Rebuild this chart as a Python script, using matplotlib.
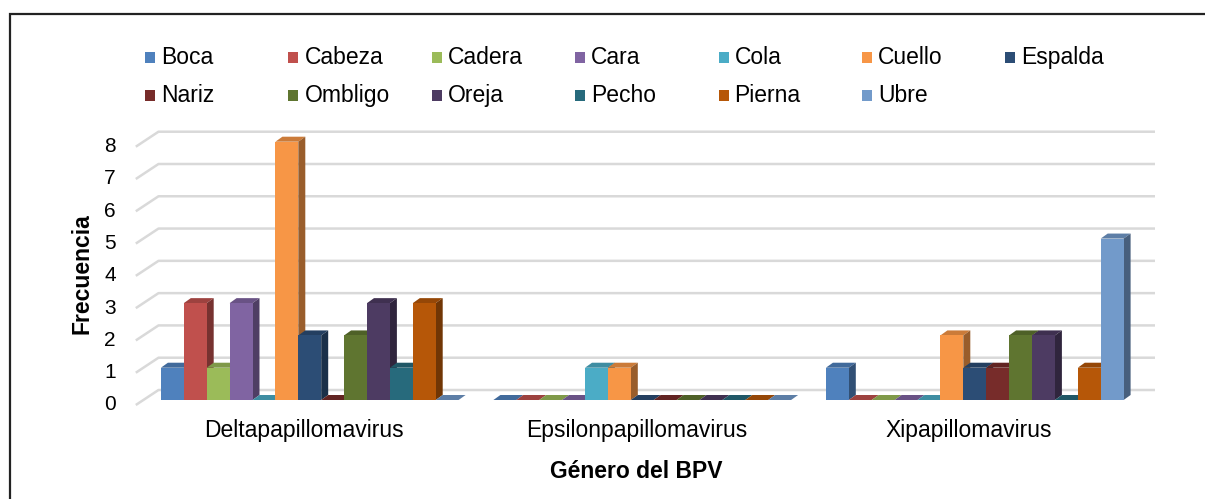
import numpy as np
import matplotlib
matplotlib.use("Agg")
import matplotlib.pyplot as plt
from matplotlib.patches import Rectangle, Polygon
from matplotlib.colors import to_rgb

plt.rcParams['font.family'] = ['Liberation Sans', 'DejaVu Sans']

generos = ["Deltapapillomavirus", "Epsilonpapillomavirus", "Xipapillomavirus"]
regiones = ["Boca", "Cabeza", "Cadera", "Cara", "Cola", "Cuello", "Espalda",
            "Nariz", "Ombligo", "Oreja", "Pecho", "Pierna", "Ubre"]
colores = ["#4F81BD", "#C0504D", "#9BBB59", "#8064A2", "#4BACC6", "#F79646", "#2C4D75",
           "#772C2A", "#5F7530", "#4D3B62", "#276A7C", "#B65708", "#729ACA"]

# frecuencia por region, en orden de generos
boca = [1, 0, 1]
cabeza = [3, 0, 0]
cadera = [1, 0, 0]
cara = [3, 0, 0]
cola = [0, 1, 0]
cuello = [8, 1, 2]
espalda = [2, 0, 1]
nariz = [0, 0, 1]
ombligo = [2, 0, 2]
oreja = [3, 0, 2]
pecho = [1, 0, 0]
pierna = [3, 0, 1]
ubre = [0, 0, 5]
valores = [boca, cabeza, cadera, cara, cola, cuello, espalda,
           nariz, ombligo, oreja, pecho, pierna, ubre]
yticks = list(range(0, 9))


def shade(c, f):
    r, g, b = to_rgb(c)
    return (r * f, g * f, b * f)


W, H = 1205, 499
fig = plt.figure(figsize=(W / 100, H / 100), dpi=100)

# marco exterior
fig.patches.append(Rectangle((10 / W, -0.1), 1.2, (H - 14) / H + 0.1, transform=fig.transFigure,
                             fill=False, edgecolor="#222222", linewidth=1.6))

# ejes: x en unidades de categoria, y en frecuencia (plano frontal de las barras)
x_left, x_right = 143.5, 1141.0
y0, y8 = 400.0, 141.7
ax = fig.add_axes([x_left / W, (H - y0) / H, (x_right - x_left) / W, (y0 - y8) / H])
ax.set_xlim(0, 3)
ax.set_ylim(0, 8)
ax.axis("off")

px_x = 3 / (x_right - x_left)      # unidades por pixel en x
px_y = 8 / (y0 - y8)               # unidades por pixel en y

# pared del fondo y lineas de division
back_dx, back_dy = 15 * px_x, 10 * px_y
front_dx, front_dy = -7.7 * px_x, -5 * px_y
for t in yticks:
    ax.plot([front_dx, back_dx, (1155 - x_left) * px_x],
            [t + front_dy, t + back_dy, t + back_dy],
            color="#D9D9D9", lw=1.8, clip_on=False, zorder=1, solid_capstyle="butt")
    ax.text(front_dx - 20 * px_x, t + front_dy, str(t), ha="right", va="center",
            fontsize=15, color="black", clip_on=False)

# barras 3D
n = len(regiones)
bw = 22.9 * px_x
gap = (1 - n * bw) / 2
ddx, ddy = 7 * px_x, 5 * px_y
z = 2
for g in range(len(generos)):
    for i in range(n):
        v = valores[i][g]
        c = colores[i]
        x0 = g + gap + i * bw
        top = Polygon([(x0, v), (x0 + bw, v), (x0 + bw + ddx, v + ddy), (x0 + ddx, v + ddy)],
                      closed=True, facecolor=shade(c, 0.82), edgecolor="none", zorder=z, clip_on=False)
        ax.add_patch(top)
        if v > 0:
            side = Polygon([(x0 + bw, 0), (x0 + bw + ddx, ddy), (x0 + bw + ddx, v + ddy), (x0 + bw, v)],
                           closed=True, facecolor=shade(c, 0.62), edgecolor="none", zorder=z, clip_on=False)
            ax.add_patch(side)
            ax.add_patch(Rectangle((x0, 0), bw, v, facecolor=c, edgecolor="none", zorder=z + 1, clip_on=False))
        z += 2
    ax.text(g + 0.5 - 6 * px_x, -31 * px_y, generos[g], ha="center", va="center",
            fontsize=16.5, clip_on=False)

# leyenda
for i, (nom, c) in enumerate(zip(regiones, colores)):
    row, col = divmod(i, 7)
    xm = 145 + col * 143.4
    ym = 57.5 + row * 38
    fig.patches.append(Rectangle((xm / W, (H - ym - 5.5) / H), 10 / W, 11 / H,
                                 transform=fig.transFigure, facecolor=c, edgecolor="none"))
    fig.text((xm + 16) / W, (H - ym) / H, nom, ha="left", va="center", fontsize=16.5)

fig.text(82 / W, (H - 274) / H, "Frecuencia", rotation=90, ha="center", va="center",
         fontsize=16.5, fontweight="bold")
fig.text(636 / W, (H - 471) / H, "Género del BPV", ha="center", va="center",
         fontsize=16.5, fontweight="bold")

fig.savefig("out.png", dpi=100)
